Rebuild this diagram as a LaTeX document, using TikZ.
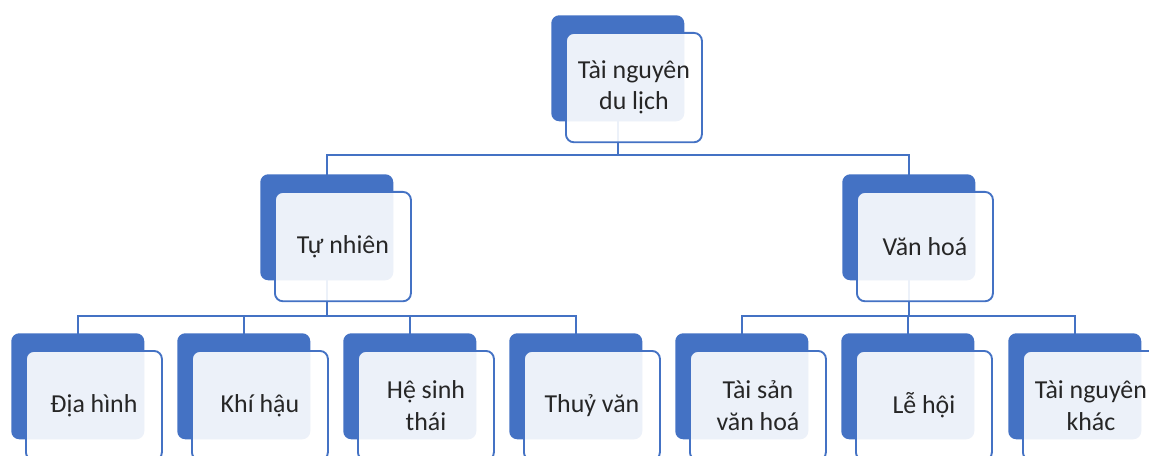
\documentclass[tikz,border=0pt]{standalone}
\usepackage{fontspec}
\setmainfont{Carlito}
\usetikzlibrary{backgrounds}
\definecolor{accent}{HTML}{4472C4}
\definecolor{txt}{HTML}{262626}
\tikzset{
  backbox/.style={fill=accent, rounded corners=6pt, minimum width=99.75pt, minimum height=79.5pt, anchor=north west, inner sep=0pt},
  frontbox/.style={draw=accent, line width=1.4pt, fill=white, fill opacity=0.9, text opacity=1, rounded corners=6pt, minimum width=102pt, minimum height=82pt, anchor=north west, align=center, text=txt, font=\fontsize{19.4}{23.5}\selectfont, inner sep=0pt},
  conn/.style={draw=accent, line width=1.5pt},
}
\newcommand\smbox[4]{%
  \node[backbox] (#1b) at (#2,#3) {};
  \node[frontbox] (#1) at (#2+14,#3+17) {#4};
}
\begin{document}
\begin{tikzpicture}[x=0.75pt,y=-0.75pt]
\useasboundingbox (0,0) rectangle (1149,456);
\clip (0,0) rectangle (1149,456);
\coordinate (bus1) at (0,155);
\coordinate (bus2) at (0,316);
\smbox{top}{551}{15}{Tài nguyên\\du lịch}
\smbox{tn}{260}{174}{Tự nhiên}
\smbox{vh}{842}{174}{Văn hoá}
\smbox{dh}{11}{333}{Địa hình}
\smbox{kh}{177}{333}{Khí hậu}
\smbox{hs}{343}{333}{Hệ sinh\\thái}
\smbox{tv}{509}{333}{Thuỷ văn}
\smbox{ts}{675}{333}{Tài sản\\văn hoá}
\smbox{lh}{841}{333}{Lễ hội}
\smbox{tk}{1008}{333}{Tài nguyên\\khác}
\begin{scope}[on background layer]
  \draw[conn] (topb.center) -- (topb.center |- bus1);
  \draw[conn] (tnb.center) -- (tnb.center |- bus1) -- (vhb.center |- bus1) -- (vhb.center);
  \draw[conn] (tnb.center) -- (tnb.center |- bus2);
  \draw[conn] (dhb.center) -- (dhb.center |- bus2) -- (tvb.center |- bus2) -- (tvb.center);
  \draw[conn] (khb.center) -- (khb.center |- bus2);
  \draw[conn] (hsb.center) -- (hsb.center |- bus2);
  \draw[conn] (vhb.center) -- (vhb.center |- bus2);
  \draw[conn] (tsb.center) -- (tsb.center |- bus2) -- (tkb.center |- bus2) -- (tkb.center);
  \draw[conn] (lhb.center) -- (lhb.center |- bus2);
\end{scope}
\end{tikzpicture}
\end{document}
